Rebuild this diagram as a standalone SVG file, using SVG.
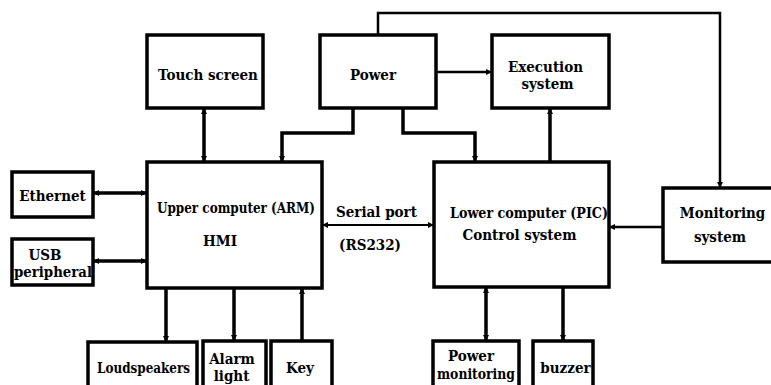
<svg xmlns="http://www.w3.org/2000/svg" width="771" height="385" viewBox="0 0 771 385">
<defs>
<marker id="ah" viewBox="0 0 6 6" refX="6" refY="3" markerWidth="6" markerHeight="6" markerUnits="userSpaceOnUse" orient="auto-start-reverse">
<path d="M0,0 L6,3 L0,6 Z" fill="#000"/>
</marker>
</defs>
<style>
.box{fill:#fff;stroke:#000;stroke-width:3.5}
.t{font-family:"DejaVu Serif Condensed","DejaVu Serif","Liberation Serif",serif;font-stretch:condensed;font-size:15px;font-weight:bold;fill:#000;text-anchor:middle}
.c{fill:none;stroke:#000;stroke-width:3.5}
.cn{fill:none;stroke:#000;stroke-width:2.5}
.cs{fill:none;stroke:#000;stroke-width:1.8}
</style>
<rect width="771" height="385" fill="#fff"/>
<g id="connectors">
<line class="c" x1="204" y1="108" x2="204" y2="162" marker-start="url(#ah)" marker-end="url(#ah)"/>
<polyline class="c" points="353,108 353,133 282,133 282,162" marker-end="url(#ah)"/>
<polyline class="c" points="403,108 403,133 475,133 475,162" marker-end="url(#ah)"/>
<line class="cn" x1="436" y1="72" x2="492" y2="72" marker-end="url(#ah)"/>
<line class="c" x1="550" y1="162" x2="550" y2="108" marker-end="url(#ah)"/>
<polyline class="cn" points="378,35 378,13 720,13 720,188" marker-end="url(#ah)"/>
<line class="cn" x1="663" y1="227" x2="609" y2="227" marker-end="url(#ah)"/>
<line class="cs" x1="322" y1="225" x2="434" y2="225" marker-start="url(#ah)" marker-end="url(#ah)"/>
<line class="c" x1="93" y1="193" x2="147" y2="193" marker-start="url(#ah)" marker-end="url(#ah)"/>
<line class="c" x1="93" y1="261" x2="147" y2="261" marker-start="url(#ah)" marker-end="url(#ah)"/>
<line class="c" x1="166" y1="288" x2="166" y2="342" marker-end="url(#ah)"/>
<line class="c" x1="234" y1="288" x2="234" y2="341" marker-end="url(#ah)"/>
<line class="c" x1="302" y1="341" x2="302" y2="288" marker-end="url(#ah)"/>
<line class="c" x1="486" y1="287" x2="486" y2="341" marker-start="url(#ah)" marker-end="url(#ah)"/>
<line class="c" x1="563" y1="287" x2="563" y2="341" marker-end="url(#ah)"/>
</g>
<g id="touch-screen"><rect class="box" x="147" y="35" width="116" height="73"/><text class="t" x="208" y="80">Touch screen</text></g>
<g id="power"><rect class="box" x="320" y="35" width="116" height="73"/><text class="t" x="373" y="80">Power</text></g>
<g id="execution"><rect class="box" x="492" y="35" width="117" height="73"/><text class="t" x="545.5" y="72">Execution</text><text class="t" x="547.5" y="89">system</text></g>
<g id="ethernet"><rect class="box" x="12" y="172" width="81" height="45"/><text class="t" x="52.5" y="201">Ethernet</text></g>
<g id="usb"><rect class="box" x="12" y="239" width="81" height="46"/><text class="t" x="45" y="260">USB</text><text class="t" x="53" y="277" textLength="78" lengthAdjust="spacingAndGlyphs">peripheral</text></g>
<g id="upper"><rect class="box" x="147" y="162" width="175" height="126"/><text class="t" x="236" y="213" textLength="158" lengthAdjust="spacingAndGlyphs">Upper computer (ARM)</text><text class="t" x="220" y="246">HMI</text></g>
<g id="serial-label"><text class="t" x="376.5" y="217">Serial port</text><text class="t" x="370" y="250">(RS232)</text></g>
<g id="lower"><rect class="box" x="434" y="162" width="175" height="125"/><text class="t" x="529" y="218" textLength="158" lengthAdjust="spacingAndGlyphs">Lower computer (PIC)</text><text class="t" x="519.5" y="240">Control system</text></g>
<g id="monitoring"><rect class="box" x="663" y="188" width="112" height="74"/><text class="t" x="722.5" y="218">Monitoring</text><text class="t" x="720" y="242">system</text></g>
<g id="loudspeakers"><rect class="box" x="88" y="342" width="109" height="50"/><text class="t" x="143.5" y="373" textLength="93" lengthAdjust="spacingAndGlyphs">Loudspeakers</text></g>
<g id="alarm"><rect class="box" x="203" y="341" width="63" height="50"/><text class="t" x="232" y="364">Alarm</text><text class="t" x="231.5" y="381">light</text></g>
<g id="key"><rect class="box" x="271" y="341" width="61" height="50"/><text class="t" x="300" y="373">Key</text></g>
<g id="power-monitoring"><rect class="box" x="433" y="341" width="86" height="50"/><text class="t" x="471" y="361">Power</text><text class="t" x="476" y="379" textLength="78" lengthAdjust="spacingAndGlyphs">monitoring</text></g>
<g id="buzzer"><rect class="box" x="533" y="341" width="60" height="50"/><text class="t" x="565.5" y="373">buzzer</text></g>
</svg>
